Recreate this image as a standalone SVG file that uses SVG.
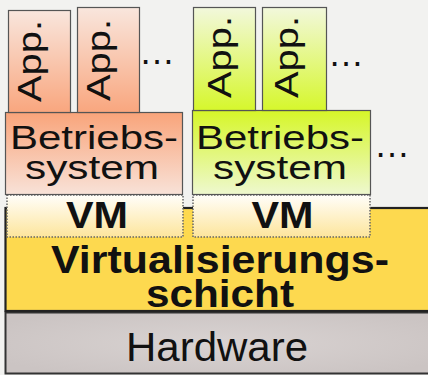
<svg xmlns="http://www.w3.org/2000/svg" width="428" height="375" viewBox="0 0 428 375">
<defs>
<linearGradient id="appO" x1="0" y1="0" x2="0" y2="1"><stop offset="0" stop-color="#f9e6dd"/><stop offset="1" stop-color="#f9a67e"/></linearGradient>
<linearGradient id="osO" x1="0" y1="0" x2="0" y2="1"><stop offset="0" stop-color="#f9a47a"/><stop offset="1" stop-color="#f8e2d8"/></linearGradient>
<linearGradient id="appG" x1="0" y1="0" x2="0" y2="1"><stop offset="0" stop-color="#f2f8dc"/><stop offset="1" stop-color="#d6f72c"/></linearGradient>
<linearGradient id="osG" x1="0" y1="0" x2="0" y2="1"><stop offset="0" stop-color="#d6f628"/><stop offset="1" stop-color="#eef8cf"/></linearGradient>
<linearGradient id="vm" x1="0" y1="0" x2="0" y2="1"><stop offset="0" stop-color="#fffefa"/><stop offset="1" stop-color="#fde59c"/></linearGradient>
<radialGradient id="hw" cx="0.5" cy="0.5" r="0.6"><stop offset="0" stop-color="#d9d3d2"/><stop offset="1" stop-color="#cbc4c3"/></radialGradient>
</defs>
<style>
.box{stroke:#555;stroke-width:1.2}
.vmb{stroke:#666;stroke-width:1.5;stroke-dasharray:1.5 1.5}
.t{font-family:"Liberation Sans",Arial,sans-serif;fill:#111;text-anchor:middle}
.b{font-weight:bold}
.app{font-family:"Liberation Sans",Arial,sans-serif;fill:#111;font-size:34px}
.dots{font-family:"Liberation Sans",Arial,sans-serif;fill:#111;font-size:36px;text-anchor:middle}
</style>
<rect width="428" height="375" fill="#f2f2f0"/>
<g id="hardware">
<rect x="5.5" y="312.5" width="430" height="61" fill="url(#hw)" stroke="#333" stroke-width="2"/>
<text class="t" x="217" y="361" font-size="40" textLength="182" lengthAdjust="spacingAndGlyphs">Hardware</text>
</g>
<g id="virtualisierungsschicht">
<rect x="5.5" y="208" width="430" height="103" fill="#fdd94f" stroke="#222" stroke-width="2.2"/>
<text class="t b" x="220" y="273" font-size="39" textLength="338" lengthAdjust="spacingAndGlyphs">Virtualisierungs-</text>
<text class="t b" x="220" y="307" font-size="38" textLength="148" lengthAdjust="spacingAndGlyphs">schicht</text>
</g>
<g id="vm1">
<rect class="vmb" x="7" y="195" width="176" height="42" fill="url(#vm)"/>
<text class="t b" x="97" y="228" font-size="36" textLength="62" lengthAdjust="spacingAndGlyphs">VM</text>
</g>
<g id="vm2">
<rect class="vmb" x="193" y="195" width="177" height="42" fill="url(#vm)"/>
<text class="t b" x="282.5" y="228" font-size="36" textLength="62" lengthAdjust="spacingAndGlyphs">VM</text>
</g>
<g id="os1">
<rect class="box" x="5.5" y="112.5" width="177" height="82" fill="url(#osO)"/>
<text class="t" x="94" y="149" font-size="34" textLength="168" lengthAdjust="spacingAndGlyphs">Betriebs-</text>
<text class="t" x="92" y="179" font-size="34" textLength="134" lengthAdjust="spacingAndGlyphs">system</text>
</g>
<g id="os2">
<rect class="box" x="192.5" y="110.5" width="178" height="84" fill="url(#osG)"/>
<text class="t" x="280" y="149" font-size="34" textLength="168" lengthAdjust="spacingAndGlyphs">Betriebs-</text>
<text class="t" x="280" y="179" font-size="34" textLength="134" lengthAdjust="spacingAndGlyphs">system</text>
<text class="dots" x="392" y="157">…</text>
</g>
<g id="app1">
<rect class="box" x="8.5" y="10.5" width="62" height="102" fill="url(#appO)"/>
<text class="app" transform="translate(41,102) rotate(-90)" textLength="82" lengthAdjust="spacingAndGlyphs">App.</text>
</g>
<g id="app2">
<rect class="box" x="77.5" y="7.5" width="62" height="105" fill="url(#appO)"/>
<text class="app" transform="translate(110,101) rotate(-90)" textLength="82" lengthAdjust="spacingAndGlyphs">App.</text>
<text class="dots" x="157" y="64">…</text>
</g>
<g id="app3">
<rect class="box" x="193.5" y="7.5" width="62" height="103" fill="url(#appG)"/>
<text class="app" transform="translate(231,98) rotate(-90)" textLength="82" lengthAdjust="spacingAndGlyphs">App.</text>
</g>
<g id="app4">
<rect class="box" x="262.5" y="7.5" width="64" height="103" fill="url(#appG)"/>
<text class="app" transform="translate(298,98) rotate(-90)" textLength="82" lengthAdjust="spacingAndGlyphs">App.</text>
<text class="dots" x="346" y="66">…</text>
</g>
</svg>
